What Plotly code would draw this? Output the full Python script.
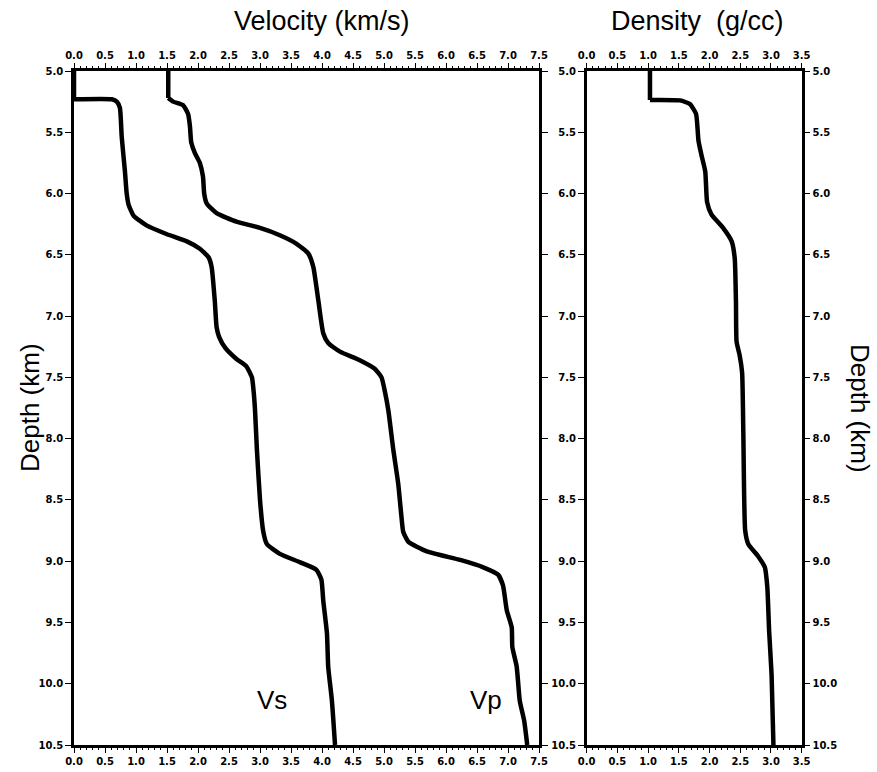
import plotly.graph_objects as go

# ---- data ----
vs_depth = [5.0, 5.231, 5.231, 5.25, 5.30, 5.54, 5.81, 6.0, 6.09, 6.18, 6.26, 6.33, 6.39, 6.45, 6.52, 6.60,
            6.87, 7.09, 7.17, 7.26, 7.35, 7.41, 7.50, 7.63, 7.77, 8.09, 8.50, 8.75, 8.86, 8.94, 9.01, 9.07,
            9.15, 9.32, 9.59, 9.86, 10.14, 10.5]
vs_vel = [0.0, 0.0, 0.61, 0.69, 0.74, 0.77, 0.82, 0.85, 0.88, 0.96, 1.17, 1.49, 1.82, 2.03, 2.17, 2.22,
          2.27, 2.30, 2.34, 2.44, 2.62, 2.78, 2.87, 2.90, 2.92, 2.95, 3.00, 3.05, 3.11, 3.32, 3.65, 3.91,
          3.99, 4.02, 4.08, 4.10, 4.16, 4.21]

vp_depth = [5.0, 5.22, 5.25, 5.28, 5.35, 5.45, 5.58, 5.67, 5.75, 5.86, 6.0, 6.08, 6.16, 6.23, 6.28, 6.34,
            6.41, 6.49, 6.60, 6.87, 7.14, 7.22, 7.29, 7.36, 7.43, 7.50, 7.63, 7.77, 8.09, 8.37, 8.63, 8.76,
            8.84, 8.92, 8.99, 9.05, 9.11, 9.20, 9.40, 9.54, 9.70, 9.86, 10.14, 10.30, 10.5]
vp_vel = [1.52, 1.52, 1.60, 1.76, 1.84, 1.87, 1.89, 1.95, 2.03, 2.08, 2.10, 2.14, 2.30, 2.62, 3.00, 3.32,
          3.59, 3.78, 3.86, 3.94, 4.02, 4.10, 4.29, 4.61, 4.85, 4.96, 5.02, 5.07, 5.15, 5.23, 5.28, 5.31,
          5.39, 5.69, 6.23, 6.60, 6.84, 6.92, 6.98, 7.06, 7.07, 7.14, 7.19, 7.26, 7.31]

rho_depth = [5.0, 5.236, 5.24, 5.27, 5.35, 5.57, 5.69, 5.82, 6.07, 6.17, 6.28, 6.39, 6.53, 6.89, 7.21,
             7.32, 7.46, 7.96, 8.75, 8.86, 8.96, 9.05, 9.21, 9.57, 9.93, 10.5]
rho = [1.03, 1.03, 1.52, 1.68, 1.78, 1.82, 1.87, 1.93, 1.96, 2.03, 2.22, 2.36, 2.41, 2.43, 2.44,
       2.49, 2.53, 2.55, 2.58, 2.63, 2.79, 2.90, 2.94, 2.97, 3.01, 3.04]

vel_range = [0, 7.5]
rho_range = [0, 3.5]
depth_range = [10.5, 5.0]

W, H = 877, 772
FONT = "Liberation Sans, Arial, Helvetica, sans-serif"
TICKFONT = "DejaVu Sans, sans-serif"

fig = go.Figure()
straight = dict(color="black", width=4.5)
smooth = dict(color="black", width=4.5, shape="spline", smoothing=0.5)


def add_profile(xs, ys, xa, ya):
    # the first (constant) water layer is a straight step, the rest a smooth profile
    fig.add_trace(go.Scatter(x=xs[:2], y=ys[:2], mode="lines", line=straight, xaxis=xa, yaxis=ya,
                             hoverinfo="skip"))
    fig.add_trace(go.Scatter(x=xs[1:], y=ys[1:], mode="lines", line=smooth, xaxis=xa, yaxis=ya,
                             hoverinfo="skip"))


add_profile(vs_vel, vs_depth, "x", "y")
add_profile(vp_vel, vp_depth, "x", "y")
add_profile(rho, rho_depth, "x2", "y2")
# invisible companions so the overlay (top / right) axes are drawn
fig.add_trace(go.Scatter(x=vs_vel, y=vs_depth, mode="lines", opacity=0, xaxis="x3", yaxis="y", hoverinfo="skip"))
fig.add_trace(go.Scatter(x=rho, y=rho_depth, mode="lines", opacity=0, xaxis="x4", yaxis="y4", hoverinfo="skip"))

lx0, lx1 = 74 / W, 539 / W
rx0, rx1 = 586.7 / W, 801.7 / W
yd = [1 - 745 / H, 1 - 71 / H]

tickfont = dict(family=TICKFONT, size=10, color="black", weight="bold")
xcommon = dict(dtick=0.5, tick0=0, ticks="outside", ticklen=5, tickwidth=1, tickcolor="black",
               tickformat=".1f", showgrid=False, zeroline=False, showline=True, linecolor="black",
               linewidth=3, tickfont=tickfont, automargin=False,
               minor=dict(dtick=0.1, ticks="outside", ticklen=2, tickwidth=1, tickcolor="black", showgrid=False))
ycommon = dict(dtick=0.5, tick0=5, ticks="outside", ticklen=6, tickwidth=1, tickcolor="black",
               tickformat=".1f", showgrid=False, zeroline=False, showline=True, linecolor="black",
               linewidth=2.5, tickfont=tickfont, range=depth_range, automargin=False)

fig.update_layout(
    template="none",
    width=W, height=H, margin=dict(l=0, r=0, t=0, b=0, pad=0, autoexpand=False),
    paper_bgcolor="white", plot_bgcolor="white", showlegend=False,
    xaxis=dict(domain=[lx0, lx1], range=vel_range, anchor="y", side="bottom", **xcommon),
    xaxis3=dict(range=vel_range, overlaying="x", anchor="y", side="top", **xcommon),
    yaxis=dict(domain=yd, anchor="x", side="left", mirror="ticks", **ycommon),
    xaxis2=dict(domain=[rx0, rx1], range=rho_range, anchor="y2", side="bottom", **xcommon),
    xaxis4=dict(range=rho_range, overlaying="x2", anchor="y4", side="top", **xcommon),
    yaxis2=dict(domain=yd, anchor="x2", side="left", **ycommon),
    yaxis4=dict(overlaying="y2", anchor="x2", side="right", **ycommon),
)

annots = [
    dict(text="Velocity (km/s)", x=322 / W, y=1 - 21 / H, font=dict(size=27)),
    dict(text="Density \u00a0(g/cc)", x=697 / W, y=1 - 21 / H, font=dict(size=27)),
    dict(text="Depth (km)", x=30 / W, y=1 - 408 / H, font=dict(size=26), textangle=-90),
    dict(text="Depth (km)", x=860 / W, y=1 - 408 / H, font=dict(size=26), textangle=90),
    dict(text="Vs", x=272 / W, y=1 - 700 / H, font=dict(size=26)),
    dict(text="Vp", x=486 / W, y=1 - 700 / H, font=dict(size=26)),
]
for a in annots:
    a["font"].update(family=FONT, color="black")
    fig.add_annotation(xref="paper", yref="paper", showarrow=False, xanchor="center", yanchor="middle", **a)

fig.write_html("out.html")
